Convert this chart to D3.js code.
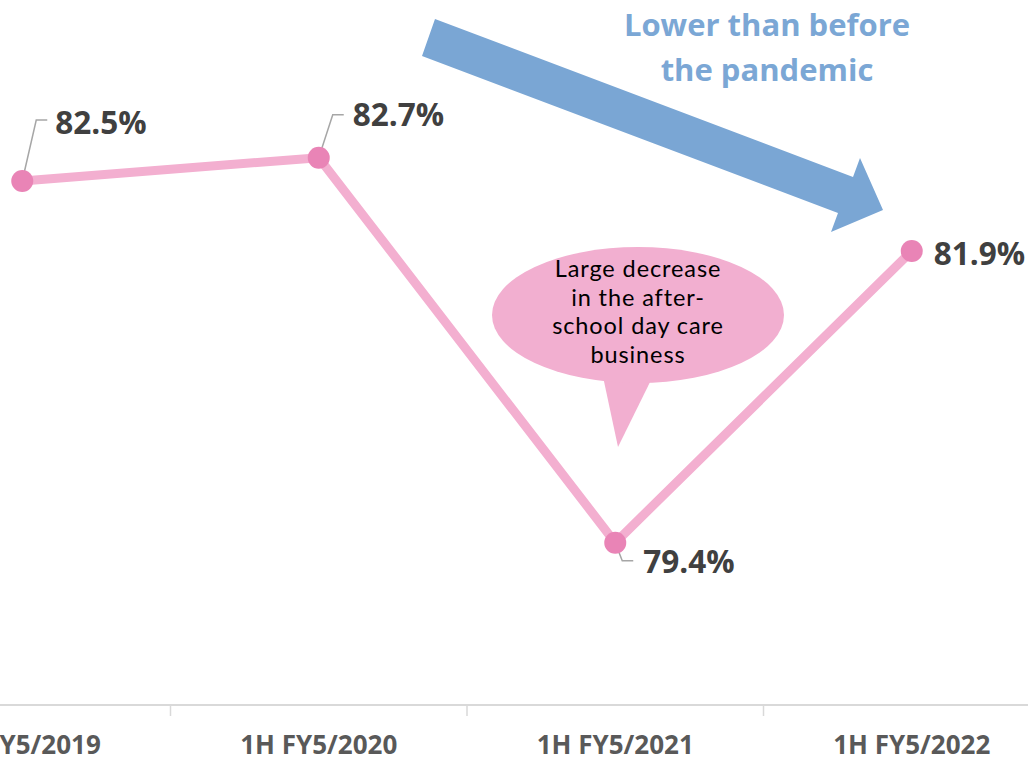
<!DOCTYPE html>
<html>
<head>
<meta charset="utf-8">
<script src="https://cdn.jsdelivr.net/npm/d3@7"></script>
<style>
  html, body { margin: 0; padding: 0; background: #ffffff; }
  svg { display: block; }
</style>
</head>
<body>
<div id="chart"></div>
<script>
// Occupancy rate by half-year period
const categories = ["1H FY5/2019", "1H FY5/2020", "1H FY5/2021", "1H FY5/2022"];
const values = [82.5, 82.7, 79.4, 81.9];
const valueLabels = ["82.5%", "82.7%", "79.4%", "81.9%"];
const calloutLines = ["Large decrease", "in the after-", "school day care", "business"];
const arrowLines = ["Lower than before", "the pandemic"];

const W = 1028, H = 762;
const svg = d3.select("#chart").append("svg")
  .attr("width", W).attr("height", H);

const x = d3.scaleBand().domain(categories).range([-126, 1060]);
const y = d3.scaleLinear().domain([78, 84]).range([706, 6]);
const cx = c => x(c) + x.bandwidth() / 2;

// category axis
const axisY = 705;
const axis = d3.axisBottom(x).tickSize(0).tickFormat(d => d);
const gAxis = svg.append("g").attr("transform", `translate(0,${axisY})`).call(axis);
gAxis.select(".domain").remove();
gAxis.append("line").attr("x1", 0).attr("x2", W).attr("y1", 0).attr("y2", 0)
  .attr("stroke", "#d9d9d9").attr("stroke-width", 2);
gAxis.selectAll(".tick text")
  .attr("dy", 0).attr("y", 49)
  .attr("fill", "#595959")
  .style("font-family", "'Open Sans', sans-serif")
  .style("font-weight", 700)
  .style("font-size", "26px")
  .style("letter-spacing", "0px");
// tick marks between categories
gAxis.selectAll(".sep").data(categories.slice(1)).join("line")
  .attr("class", "sep")
  .attr("x1", d => x(d)).attr("x2", d => x(d))
  .attr("y1", 0).attr("y2", 11)
  .attr("stroke", "#d9d9d9").attr("stroke-width", 1.5);

// trend arrow
const arrowPts = [[435, 19], [853, 177], [860, 158], [883, 210], [831, 232], [838, 213], [422, 56]];
svg.append("path")
  .attr("d", d3.line()(arrowPts) + "Z")
  .attr("fill", "#7aa6d4");
svg.append("text")
  .attr("text-anchor", "middle")
  .attr("fill", "#7ba7d5")
  .style("font-family", "'Open Sans', sans-serif")
  .style("font-weight", 700)
  .style("font-size", "31px")
  .selectAll("tspan").data(arrowLines).join("tspan")
  .attr("x", 767).attr("y", (d, i) => 36 + i * 45)
  .text(d => d);

// callout bubble
const bubble = svg.append("g");
bubble.append("path")
  .attr("d", "M602,372 L618,447 L655,372 Z")
  .attr("fill", "#f2afd0");
bubble.append("ellipse")
  .attr("cx", 638).attr("cy", 315).attr("rx", 146).attr("ry", 68)
  .attr("fill", "#f2afd0");
bubble.selectAll("text.callout").data(calloutLines).join("text")
  .attr("class", "callout")
  .attr("text-anchor", "middle")
  .attr("fill", "#000000")
  .style("font-family", "Lato, sans-serif")
  .style("font-size", "23.5px")
  .style("letter-spacing", "0.9px")
  .attr("x", 638).attr("y", (d, i) => 277 + i * 28.7)
  .text(d => d);

// data line
const pts = categories.map((c, i) => [cx(c), y(values[i])]);
svg.append("path")
  .attr("d", d3.line()(pts))
  .attr("fill", "none")
  .attr("stroke", "#f3afd0")
  .attr("stroke-width", 9)
  .attr("stroke-linejoin", "round");

// leader lines (label anchor offsets from each point)
const leaders = [
  [[0, 0], [14, -61], [25, -61]],
  [[0, 0], [14, -43], [25, -43]],
  [[0, 0], [7, 18], [18, 18]],
  null
];
leaders.forEach((l, i) => {
  if (!l) return;
  const [px, py] = pts[i];
  svg.append("path")
    .attr("d", d3.line()(l.map(([dx, dy]) => [px + dx, py + dy])))
    .attr("fill", "none")
    .attr("stroke", "#a6a6a6")
    .attr("stroke-width", 1.5);
});

// markers
svg.selectAll("circle.pt").data(pts).join("circle")
  .attr("class", "pt")
  .attr("cx", d => d[0]).attr("cy", d => d[1]).attr("r", 11)
  .attr("fill", "#e984b6");

// value labels
const labelOffsets = [[33, -55], [34, -40], [28, 22], [22, 6]];
svg.selectAll("text.val").data(valueLabels).join("text")
  .attr("class", "val")
  .attr("x", (d, i) => pts[i][0] + labelOffsets[i][0])
  .attr("y", (d, i) => pts[i][1] + labelOffsets[i][1])
  .attr("dominant-baseline", "middle")
  .attr("fill", "#404040")
  .style("font-family", "'Open Sans', sans-serif")
  .style("font-weight", 700)
  .style("font-size", "31.5px")
  .text(d => d);
</script>
</body>
</html>
